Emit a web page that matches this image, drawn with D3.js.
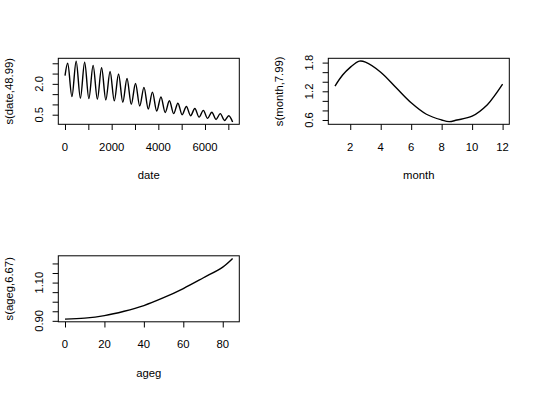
<!DOCTYPE html>
<html>
<head>
<meta charset="utf-8">
<script src="https://cdn.jsdelivr.net/npm/d3@7"></script>
<style>
body { margin: 0; background: #fff; }
text { font-family: "Liberation Sans", Arial, sans-serif; font-size: 11.3px; fill: #000; }
</style>
</head>
<body>
<div id="chart"></div>
<script>
// s(date) : peaks and troughs of the yearly wave
var dateX = [1, 115, 297, 478, 660, 842, 1023, 1205, 1387, 1568, 1750, 1932, 2113, 2295, 2477,
	2658, 2840, 3022, 3203, 3385, 3567, 3748, 3930, 4112, 4293, 4475, 4657, 4838, 5020, 5202,
	5383, 5565, 5747, 5928, 6110, 6292, 6473, 6655, 6837, 7018, 7183];
var dateY = [2.4, 3.0, 1.38, 3.1, 1.30, 3.05, 1.28, 2.9, 1.25, 2.78, 1.22, 2.6, 1.17, 2.48, 1.1,
	2.26, 1.0, 2.02, 0.92, 1.83, 0.78, 1.6, 0.68, 1.36, 0.61, 1.18, 0.55, 1.06, 0.5, 0.9,
	0.45, 0.8, 0.38, 0.71, 0.32, 0.62, 0.27, 0.55, 0.22, 0.45, 0.15];
var dateLim = [-287, 7470], dateYLim = [0.033, 3.243];
var dateTicks = [0, 1000, 2000, 3000, 4000, 5000, 6000, 7000];
var dateLabels = [0, 2000, 4000, 6000];
var dateYTicks = [0.5, 1.0, 1.5, 2.0, 2.5, 3.0];
var dateYLabels = ["0.5", "2.0"];

// s(month)
var monthX = [1, 1.5, 2, 2.6, 3, 4, 5, 6, 7, 8, 8.5, 9, 10, 11, 11.5, 12];
var monthY = [1.31, 1.54, 1.70, 1.83, 1.81, 1.60, 1.28, 0.96, 0.72, 0.60, 0.565, 0.60, 0.68, 0.92, 1.12, 1.35];
var monthLim = [0.56, 12.44], monthYLim = [0.51, 1.89];
var monthTicks = [2, 4, 6, 8, 10, 12];
var monthLabels = [2, 4, 6, 8, 10, 12];
var monthYTicks = [0.6, 0.8, 1.0, 1.2, 1.4, 1.6, 1.8];
var monthYLabels = ["0.6", "1.2", "1.8"];

// s(ageg)
var ageX = [0, 10, 20, 30, 40, 50, 60, 70, 80, 85];
var ageY = [0.909, 0.914, 0.927, 0.950, 0.980, 1.021, 1.069, 1.124, 1.181, 1.226];
var ageLim = [-3.4, 88.4], ageYLim = [0.895, 1.24];
var ageTicks = [0, 20, 40, 60, 80];
var ageLabels = [0, 20, 40, 60, 80];
var ageYTicks = [0.90, 0.95, 1.00, 1.05, 1.10, 1.15, 1.20];
var ageYLabels = ["0.90", "1.10"];

var width = 540, height = 395;
var cellW = 270, cellH = 197.5;
var mar = {left: 58.3, right: 30.7, top: 58.3, bottom: 73.2};
var tick = 5.7;

var svg = d3.select("#chart")
	.append("svg")
	.attr("width", width)
	.attr("height", height);

var panels = [
	{col: 0, row: 0, x: dateX, y: dateY, xlim: dateLim, ylim: dateYLim, xt: dateTicks, xl: dateLabels,
		yt: dateYTicks, yl: dateYLabels, xlab: "date", ylab: "s(date,48.99)", curve: d3.curveMonotoneX},
	{col: 1, row: 0, x: monthX, y: monthY, xlim: monthLim, ylim: monthYLim, xt: monthTicks, xl: monthLabels,
		yt: monthYTicks, yl: monthYLabels, xlab: "month", ylab: "s(month,7.99)", curve: d3.curveCatmullRom},
	{col: 0, row: 1, x: ageX, y: ageY, xlim: ageLim, ylim: ageYLim, xt: ageTicks, xl: ageLabels,
		yt: ageYTicks, yl: ageYLabels, xlab: "ageg", ylab: "s(ageg,6.67)", curve: d3.curveCatmullRom}
];

panels.forEach(function(p) {
	var left = p.col * cellW + mar.left,
		right = (p.col + 1) * cellW - mar.right,
		top = p.row * cellH + mar.top,
		bottom = (p.row + 1) * cellH - mar.bottom;

	var x = d3.scaleLinear().domain(p.xlim).range([left, right]);
	var y = d3.scaleLinear().domain(p.ylim).range([bottom, top]);

	var g = svg.append("g");

	// ticks only, labels drawn below
	g.append("g")
		.attr("transform", "translate(0," + bottom + ")")
		.call(d3.axisBottom(x).tickValues(p.xt).tickSizeInner(tick).tickSizeOuter(0).tickFormat(""))
		.call(function(a) { a.select(".domain").remove(); });
	g.append("g")
		.attr("transform", "translate(" + left + ",0)")
		.call(d3.axisLeft(y).tickValues(p.yt).tickSizeInner(tick).tickSizeOuter(0).tickFormat(""))
		.call(function(a) { a.select(".domain").remove(); });
	g.selectAll(".tick line").attr("stroke", "#000");

	g.selectAll(".xl")
		.data(p.xl)
		.enter().append("text")
		.attr("x", function(d) { return x(d); })
		.attr("y", bottom + 26.4)
		.attr("text-anchor", "middle")
		.text(function(d) { return d; });

	g.selectAll(".yl")
		.data(p.yl)
		.enter().append("text")
		.attr("transform", function(d) { return "translate(" + (left - 15) + "," + y(+d) + ") rotate(-90)"; })
		.attr("text-anchor", "middle")
		.text(function(d) { return d; });

	g.append("text")
		.attr("x", (left + right) / 2)
		.attr("y", bottom + 55)
		.attr("text-anchor", "middle")
		.text(p.xlab);
	g.append("text")
		.attr("transform", "translate(" + (left - 45.5) + "," + ((top + bottom) / 2) + ") rotate(-90)")
		.attr("text-anchor", "middle")
		.text(p.ylab);

	var line = d3.line()
		.x(function(d) { return x(d[0]); })
		.y(function(d) { return y(d[1]); })
		.curve(p.curve);

	g.append("path")
		.datum(d3.zip(p.x, p.y))
		.attr("d", line)
		.attr("fill", "none")
		.attr("stroke", "#000")
		.attr("stroke-width", 1.4);

	g.append("rect")
		.attr("x", left)
		.attr("y", top)
		.attr("width", right - left)
		.attr("height", bottom - top)
		.attr("fill", "none")
		.attr("stroke", "#000")
		.attr("stroke-width", 1);
});
</script>
</body>
</html>
